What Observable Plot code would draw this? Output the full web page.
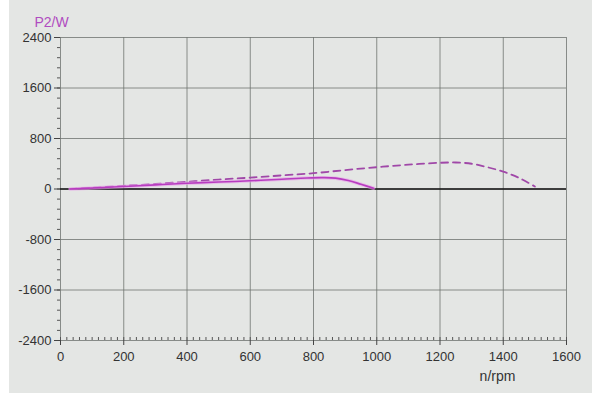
<!DOCTYPE html>
<html>
<head>
<meta charset="utf-8">
<script src="https://cdn.jsdelivr.net/npm/d3@7"></script>
<script src="https://cdn.jsdelivr.net/npm/@observablehq/plot@0.6"></script>
<style>
  html, body { margin: 0; padding: 0; }
  body { width: 592px; height: 393px; background: #e4e6e4; box-shadow: inset 9px 0 0 #ffffff; overflow: hidden; }
</style>
</head>
<body>
<div id="chart"></div>
<script>
// Solid curve (n/rpm, P2/W)
const solidRpm = [30, 100, 200, 300, 400, 500, 600, 700, 780, 830, 870, 910, 950, 990];
const solidP2  = [0, 15, 40, 65, 90, 110, 130, 155, 175, 180, 172, 135, 75, 12];
// Dashed curve
const dashRpm = [30, 100, 200, 300, 400, 500, 600, 700, 800, 900, 1000, 1100, 1200, 1250, 1300, 1350, 1400, 1450, 1500];
const dashP2  = [0, 18, 50, 80, 115, 150, 180, 215, 250, 300, 345, 385, 415, 420, 400, 345, 275, 175, 40];

const xTicks = [0, 200, 400, 600, 800, 1000, 1200, 1400, 1600];
const yTicks = [-2400, -1600, -800, 0, 800, 1600, 2400];
const xMinor = d3.range(0, 1601, 20);
const yMinor = d3.range(-2400, 2401, 160);

const solid = solidRpm.map((x, i) => ({x, y: solidP2[i]}));
const dashed = dashRpm.map((x, i) => ({x, y: dashP2[i]}));
const fmt = d => String(d);

const chart = Plot.plot({
  width: 592,
  height: 393,
  marginLeft: 60,
  marginRight: 26,
  marginTop: 37,
  marginBottom: 53,
  style: {background: "transparent", fontFamily: "Liberation Sans, Arial, sans-serif", fontSize: "13px", color: "#333"},
  x: {domain: [0, 1600]},
  y: {domain: [-2400, 2400]},
  marks: [
    Plot.ruleX(xTicks, {stroke: "#6f7470", strokeWidth: 0.8}),
    Plot.ruleY(yTicks, {stroke: "#6f7470", strokeWidth: 0.8}),
    Plot.ruleY([0], {stroke: "#151515", strokeWidth: 1.3}),
    Plot.axisX(xMinor, {tickSize: -3, tickFormat: () => "", label: null, stroke: "#555"}),
    Plot.axisY(yMinor, {tickSize: 3, tickFormat: () => "", label: null, stroke: "#555"}),
    Plot.axisX(xTicks, {tickSize: 5, tickPadding: 6, tickFormat: fmt, label: null, fontSize: 13, fill: "#333", stroke: "#444"}),
    Plot.axisY(yTicks, {tickSize: 6, tickPadding: 3, tickFormat: fmt, label: null, fontSize: 13, fill: "#333", stroke: "#444"}),
    Plot.line(dashed, {x: "x", y: "y", stroke: "#a048a8", strokeWidth: 1.8, strokeDasharray: "7,5", curve: "catmull-rom"}),
    Plot.line(solid, {x: "x", y: "y", stroke: "#e8a0ea", strokeWidth: 3.5, strokeOpacity: 0.6, curve: "catmull-rom"}),
    Plot.line(solid, {x: "x", y: "y", stroke: "#b83cc0", strokeWidth: 1.6, curve: "catmull-rom"}),
    Plot.text(["P2/W"], {frameAnchor: "top-left", dx: -9, dy: -20, textAnchor: "middle", fill: "#b04cc0", fontSize: 14}),
    Plot.text(["n/rpm"], {frameAnchor: "bottom-right", dx: -69, dy: 40, textAnchor: "middle", fill: "#333", fontSize: 14})
  ]
});
document.getElementById("chart").appendChild(chart);
</script>
</body>
</html>
